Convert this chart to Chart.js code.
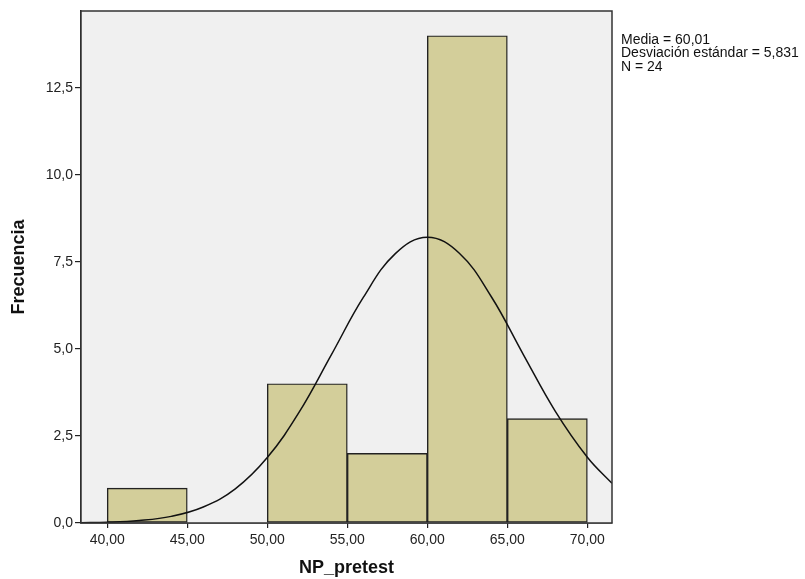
<!DOCTYPE html>
<html>
<head>
<meta charset="utf-8">
<script src="https://cdn.jsdelivr.net/npm/chart.js@4.4.0/dist/chart.umd.min.js"></script>
<style>
    body { margin: 0; background: #ffffff; }
    #wrap { width: 805px; height: 579px; }
</style>
</head>
<body>
<div id="wrap"><canvas id="myChart" width="805" height="579"></canvas></div>
<script>
// Histogram bins (NP_pretest)
var binStart = [40, 50, 55, 60, 65];
var binEnd = [45, 55, 60, 65, 70];
var frequencies = [1, 4, 2, 14, 3];

// Normal curve
var curveX = [38.36, 40, 42, 44, 46, 48, 50, 52, 54, 56, 58, 60, 62, 64, 66, 68, 70, 71.54];
var curveY = [0.01, 0.02, 0.07, 0.19, 0.46, 0.98, 1.88, 3.19, 4.83, 6.48, 7.74, 8.21, 7.75, 6.50, 4.84, 3.21, 1.89, 1.14];

// Tick labels
var xTicks = [40, 45, 50, 55, 60, 65, 70];
var yTicks = [0, 2.5, 5, 7.5, 10, 12.5];

// Stats text
var statsLines = ['Media = 60,01', 'Desviación estándar = 5,831', 'N = 24'];

var fontFamily = 'Arial, "Liberation Sans", sans-serif';

// Points for the datasets
var barPoints = binStart.map(function(s, i) {
    return { x: (s + binEnd[i]) / 2, y: frequencies[i] };
});
var curvePoints = curveX.map(function(x, i) {
    return { x: x, y: curveY[i] };
});

function formatComma(value, digits) {
    return Number(value).toFixed(digits).replace('.', ',');
}

// Grey plot background and frame
var plotFrame = {
    id: 'plotFrame',
    beforeDatasetsDraw: function(chart) {
        var a = chart.chartArea;
        var ctx = chart.ctx;
        ctx.save();
        ctx.fillStyle = '#f0f0f0';
        ctx.fillRect(a.left, a.top, a.right - a.left, a.bottom - a.top);
        ctx.restore();
    },
    afterDatasetsDraw: function(chart) {
        var a = chart.chartArea;
        var ctx = chart.ctx;
        ctx.save();
        ctx.strokeStyle = '#333333';
        ctx.lineWidth = 1.5;
        ctx.strokeRect(a.left, a.top, a.right - a.left, a.bottom - a.top);
        ctx.restore();
    }
};

// Stats text at the right of the plot
var statsText = {
    id: 'statsText',
    afterDraw: function(chart) {
        var ctx = chart.ctx;
        ctx.save();
        ctx.fillStyle = '#111111';
        ctx.font = '14px ' + fontFamily;
        ctx.textBaseline = 'middle';
        ctx.textAlign = 'left';
        statsLines.forEach(function(line, i) {
            ctx.fillText(line, 621, 40 + i * 13.5);
        });
        ctx.restore();
    }
};

var ctx = document.getElementById('myChart').getContext('2d');

var myChart = new Chart(ctx, {
    data: {
        datasets: [{
            type: 'line',
            data: curvePoints,
            borderColor: '#111111',
            borderWidth: 1.5,
            pointRadius: 0,
            fill: false,
            tension: 0.4,
            order: 0
        }, {
            type: 'bar',
            data: barPoints,
            backgroundColor: '#d3ce9a',
            borderColor: '#222222',
            borderWidth: 1.4,
            borderSkipped: false,
            barPercentage: 1,
            categoryPercentage: 1,
            grouped: false,
            order: 1
        }]
    },
    options: {
        responsive: false,
        animation: false,
        devicePixelRatio: 1,
        layout: {
            padding: { left: 0, right: 193, top: 11, bottom: 0 }
        },
        plugins: {
            legend: { display: false },
            tooltip: { enabled: false }
        },
        scales: {
            x: {
                type: 'linear',
                offset: false,
                min: 38.36,
                max: 71.54,
                afterBuildTicks: function(scale) {
                    scale.ticks = xTicks.map(function(v) { return { value: v }; });
                },
                afterFit: function(scale) {
                    scale.height = 579 - 523;
                },
                grid: {
                    offset: false,
                    drawOnChartArea: false,
                    drawTicks: true,
                    tickLength: 5,
                    color: '#222222',
                    lineWidth: 1.2
                },
                border: { display: true, color: '#222222', width: 1.5 },
                ticks: {
                    color: '#222222',
                    font: { family: fontFamily, size: 14 },
                    padding: 4,
                    maxRotation: 0,
                    callback: function(value) { return formatComma(value, 2); }
                },
                title: {
                    display: true,
                    text: 'NP_pretest',
                    color: '#111111',
                    font: { family: fontFamily, size: 18, weight: 'bold' },
                    padding: { top: 5, bottom: 0 }
                }
            },
            y: {
                type: 'linear',
                min: 0,
                max: 14.71,
                afterBuildTicks: function(scale) {
                    scale.ticks = yTicks.map(function(v) { return { value: v }; });
                },
                afterFit: function(scale) {
                    scale.width = 81;
                },
                grid: {
                    drawOnChartArea: false,
                    drawTicks: true,
                    tickLength: 6,
                    color: '#222222',
                    lineWidth: 1.2
                },
                border: { display: true, color: '#222222', width: 1.5 },
                ticks: {
                    color: '#222222',
                    font: { family: fontFamily, size: 14 },
                    padding: 2,
                    callback: function(value) { return formatComma(value, 1); }
                },
                title: {
                    display: true,
                    text: 'Frecuencia',
                    color: '#111111',
                    font: { family: fontFamily, size: 18, weight: 'bold' },
                    padding: { top: 8, bottom: 0 }
                }
            }
        }
    },
    plugins: [plotFrame, statsText]
});
</script>
</body>
</html>
